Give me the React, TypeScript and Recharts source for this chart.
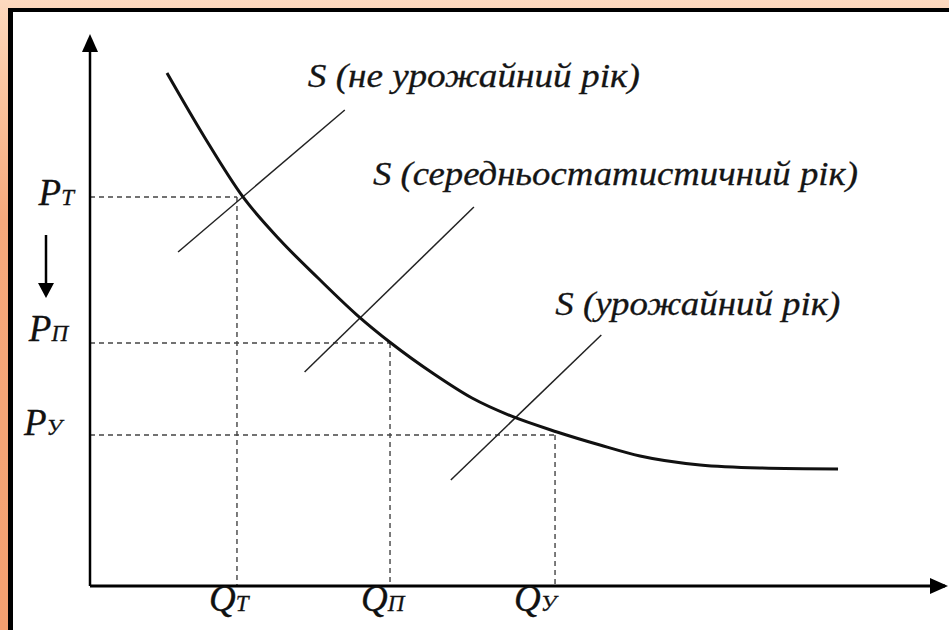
import { ComposedChart, Line, XAxis, YAxis, ReferenceLine, ReferenceDot } from "recharts"

// demand curve (quantity, price) in chart units 0..100
const demandQ = [9.0, 13.45, 17.89, 22.22, 26.67, 31.23, 35.2, 40.23, 44.68, 49.24, 54.62, 59.65, 64.33, 71.35, 78.36, 87.49]
const demandP = [93.96, 82.05, 71.25, 63.37, 56.41, 49.63, 44.51, 38.83, 34.43, 31.14, 28.21, 25.82, 23.81, 22.16, 21.61, 21.43]

// supply lines: [lower end, upper end]
const supplyNames = ["S (не урожайний рік)", "S (середньостатистичний рік)", "S (урожайний рік)"]
const supplyQ = [
  [10.3, 29.8],
  [25.1, 44.9],
  [42.2, 59.8],
]
const supplyP = [
  [61.17, 87.18],
  [39.19, 69.41],
  [19.41, 45.97],
]

// equilibrium levels: Т = неурожайний, П = середній, У = урожайний
const eqLetters = ["Т", "П", "У"]
const eqQ = [17.19, 35.09, 54.39]
const eqP = [71.25, 44.51, 27.66]

const FONT = "Liberation Serif"

const demandData = demandQ.map((q, i) => ({ q, p: demandP[i] }))
const supplyData = supplyQ.map((qs, i) => qs.map((q, j) => ({ q, p: supplyP[i][j] })))

// label placement (pixel offsets from the upper end of each supply line)
const labelOffsets = [
  { dx: -37, dy: -23, w: 332 },
  { dx: -101, dy: -22, w: 485 },
  { dx: -46, dy: -20, w: 285 },
]
const yTickX = [74, 68, 62]
const yTickDy = [8, -2, 0]
const xTickDx = [-28, -29, -41]

const textStyle = { fontFamily: FONT, fontStyle: "italic" as const }

const YTick = (props: any) => {
  const { y, index } = props
  return (
    <text
      x={yTickX[index]}
      y={y + yTickDy[index]}
      textAnchor="end"
      style={textStyle}
      fill="#111"
      stroke="#111"
      strokeWidth={0.3}
    >
      <tspan fontSize={37}>P</tspan>
      <tspan fontSize={23}>{eqLetters[index]}</tspan>
    </text>
  )
}

const XTick = (props: any) => {
  const { x, index } = props
  return (
    <text
      x={x + xTickDx[index]}
      y={611}
      textAnchor="start"
      style={textStyle}
      fill="#111"
      stroke="#111"
      strokeWidth={0.3}
    >
      <tspan fontSize={37}>Q</tspan>
      <tspan fontSize={23}>{eqLetters[index]}</tspan>
    </text>
  )
}

export default function App() {
  return (
    <div
      style={{
        position: "absolute",
        top: 0,
        left: 0,
        width: 949,
        height: 630,
        overflow: "hidden",
        background: "linear-gradient(to bottom, #fdd9bf 0%, #fbc8a4 12%, #f6a97c 35%, #f4a070 100%)",
      }}
    >
      <div
        style={{
          position: "absolute",
          left: 8,
          top: 8,
          width: 941,
          height: 622,
          boxSizing: "border-box",
          borderTop: "4px solid #000",
          borderLeft: "5px solid #000",
          background: "#fff",
        }}
      />
      <div style={{ position: "absolute", left: 0, top: 0 }}>
        <ComposedChart width={949} height={630} margin={{ top: 40, right: 4, left: 0, bottom: 0 }}>
          <XAxis
            type="number"
            dataKey="q"
            domain={[0, 100]}
            ticks={eqQ}
            allowDataOverflow
            height={44}
            axisLine={{ stroke: "#000", strokeWidth: 3 }}
            tickLine={false}
            tick={<XTick />}
            interval={0}
          />
          <YAxis
            type="number"
            dataKey="p"
            domain={[0, 100]}
            ticks={eqP}
            allowDataOverflow
            width={90}
            axisLine={{ stroke: "#000", strokeWidth: 2.5 }}
            tickLine={false}
            tick={<YTick />}
            interval={0}
          />
          {eqQ.map((q, i) => (
            <ReferenceLine
              key={"h" + i}
              segment={[
                { x: 0, y: eqP[i] },
                { x: q, y: eqP[i] },
              ]}
              stroke="#444"
              strokeWidth={1.4}
              strokeDasharray="5 4"
            />
          ))}
          {eqQ.map((q, i) => (
            <ReferenceLine
              key={"v" + i}
              segment={[
                { x: q, y: eqP[i] },
                { x: q, y: 0 },
              ]}
              stroke="#444"
              strokeWidth={1.4}
              strokeDasharray="5 4"
            />
          ))}
          {supplyData.map((d, i) => (
            <Line
              key={"s" + i}
              data={d}
              dataKey="p"
              type="linear"
              stroke="#222"
              strokeWidth={1.5}
              dot={false}
              isAnimationActive={false}
            />
          ))}
          <Line
            data={demandData}
            dataKey="p"
            type="monotone"
            stroke="#111"
            strokeWidth={3}
            dot={false}
            isAnimationActive={false}
          />
          {supplyData.map((d, i) => (
            <ReferenceDot
              key={"l" + i}
              x={d[1].q}
              y={d[1].p}
              ifOverflow="visible"
              shape={(p: any) => (
                <text
                  x={p.cx + labelOffsets[i].dx}
                  y={p.cy + labelOffsets[i].dy}
                  style={textStyle}
                  fontSize={34}
                  fill="#151515"
                  stroke="#151515"
                  strokeWidth={0.3}
                  textLength={labelOffsets[i].w}
                  lengthAdjust="spacingAndGlyphs"
                >
                  {supplyNames[i]}
                </text>
              )}
            />
          ))}
          <ReferenceDot
            x={0}
            y={100}
            ifOverflow="visible"
            shape={(p: any) => (
              <path d={`M${p.cx},${p.cy - 6} L${p.cx - 8},${p.cy + 12} L${p.cx + 8},${p.cy + 12} Z`} fill="#000" />
            )}
          />
          <ReferenceDot
            x={100}
            y={0}
            ifOverflow="visible"
            shape={(p: any) => (
              <path d={`M${p.cx + 3},${p.cy} L${p.cx - 15},${p.cy - 8} L${p.cx - 15},${p.cy + 8} Z`} fill="#000" />
            )}
          />
          <ReferenceDot
            x={0}
            y={eqP[0]}
            ifOverflow="visible"
            shape={(p: any) => (
              <g>
                <line x1={p.cx - 44} y1={p.cy + 38} x2={p.cx - 44} y2={p.cy + 90} stroke="#000" strokeWidth={2.5} />
                <path
                  d={`M${p.cx - 44},${p.cy + 101} L${p.cx - 52},${p.cy + 86} L${p.cx - 36},${p.cy + 86} Z`}
                  fill="#000"
                />
              </g>
            )}
          />
        </ComposedChart>
      </div>
    </div>
  )
}
